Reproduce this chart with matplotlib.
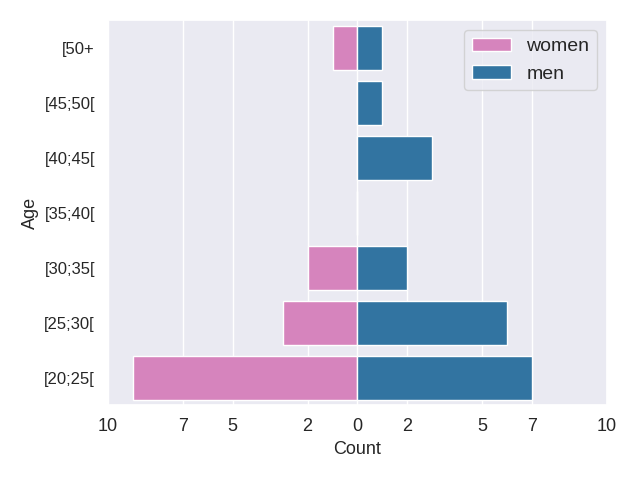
import numpy as np
import pandas as pd
import matplotlib
matplotlib.use("Agg")
import matplotlib.pyplot as plt
import seaborn as sns

sns.set_theme(style="darkgrid")
plt.rcParams["font.family"] = ["Liberation Sans", "DejaVu Sans"]

ages = ["[50+", "[45;50[", "[40;45[", "[35;40[", "[30;35[", "[25;30[", "[20;25["]
women = [1, 0, 0, 0, 2, 3, 9]
men = [1, 1, 3, 0, 2, 6, 7]

df = pd.DataFrame({"Age": ages, "women": [-w for w in women], "men": men})

fig, ax = plt.subplots(figsize=(6.4, 4.8), dpi=100)
sns.barplot(data=df, x="women", y="Age", order=ages, color="tab:pink",
            saturation=0.75, label="women", ax=ax, orient="h")
sns.barplot(data=df, x="men", y="Age", order=ages, color="tab:blue",
            saturation=0.75, label="men", ax=ax, orient="h")

ticks = np.linspace(-10, 10, 9).astype(int)
ax.set_xlim(-10, 10)
ax.set_xticks(ticks)
ax.set_xticklabels([str(abs(t)) for t in ticks], fontsize=13)
ax.tick_params(axis="y", labelsize=12)
ax.set_xlabel("Count", fontsize=13)
ax.set_ylabel("Age", fontsize=13)
ax.legend(loc="upper right", fontsize=14)

fig.subplots_adjust(left=0.169, right=0.948, top=0.958, bottom=0.156)
plt.savefig("out.png")
